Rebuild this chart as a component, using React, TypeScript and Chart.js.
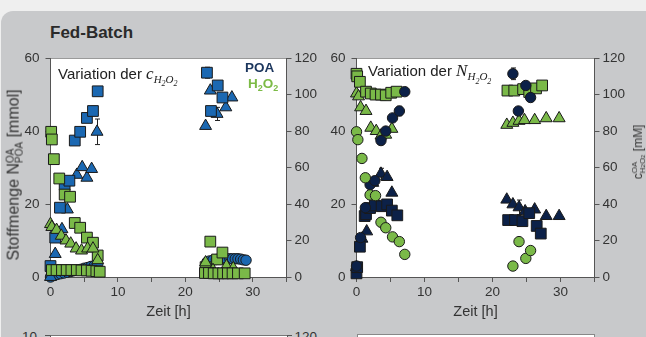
import React, { useEffect, useRef } from "react";
import { Chart, registerables } from "chart.js";
Chart.register(...registerables);

// ---------- axis ticks ----------
const xTickValues = [0, 5, 10, 15, 20, 25, 30, 35];
const xTickLabels = ["0", "", "10", "", "20", "", "30", ""];
const yLeftTicks = [0, 20, 40, 60];
const yRightTicks = [0, 20, 40, 60, 80, 100, 120];

// ---------- LEFT panel: Variation der c_H2O2 ----------
// POA [mmol] (blue)
const lPoaSqT = [0, 0.7, 1.4, 2.1, 2.8, 3.6, 4.4, 5.4, 6.3, 7.0, 23.2, 23.8, 24.8, 25.5];
const lPoaSqV = [3.0, 10.8, 19.0, 25.3, 26.4, 37.4, 39.8, 43.6, 45.5, 50.9, 56.0, 45.5, 52.5, 49.2];
const lPoaSqE = [0, 0, 0, 0, 0, 0, 0, 0, 1.3, 0, 1.5, 0, 0, 0];
const lPoaTrT = [0, 0.7, 1.7, 2.5, 3.9, 4.7, 5.4, 6.1, 6.9, 23.0, 23.7, 24.7, 26.0, 26.9];
const lPoaTrV = [0, 6.3, 13.1, 18.5, 28.0, 30.1, 27.2, 29.6, 39.8, 41.4, 51.1, 44.7, 46.5, 49.2];
const lPoaTrE = [0, 0, 0, 0, 0, 0, 0, 0, 3.5, 0, 0, 1.8, 0, 0];
const lPoaCiT = [0, 0.5, 1, 1.5, 2, 2.5, 3, 3.5, 4, 4.5, 5, 5.5, 6, 6.5, 7, 23.2, 23.6, 24.1, 24.6, 25.1, 25.6, 26.1, 26.6, 27.0, 27.4, 27.8, 28.2, 28.6, 29.0];
const lPoaCiV = [0, 0.4, 0.7, 0.9, 1.1, 1.3, 1.5, 1.7, 1.9, 2.1, 2.4, 2.6, 2.9, 3.1, 3.4, 4.1, 4.4, 4.6, 4.8, 4.9, 5.0, 5.0, 5.0, 5.0, 5.0, 5.0, 4.9, 4.7, 4.6];
// H2O2 [mM] (green)
const lHpSqT = [0.1, 0.2, 0.5, 1.3, 2.1, 2.9, 3.6, 4.4, 5.4, 6.3, 7.0, 23.0, 23.7, 24.7, 25.5];
const lHpSqV = [79.6, 75.4, 64.6, 54.0, 45.2, 44.0, 29.6, 27.0, 21.6, 18.8, 11.8, 5.4, 19.4, 9.6, 13.4];
const lHpSq2T = [0.2, 0.9, 1.7, 2.4, 3.1, 3.9, 4.6, 5.4, 6.1, 6.8, 7.3, 22.9, 23.5, 24.2, 24.9, 25.6, 26.3, 27.0, 27.8, 28.8];
const lHpSq2V = [3.8, 3.8, 3.8, 3.8, 3.8, 3.8, 3.6, 3.6, 3.4, 3.2, 2.9, 2.2, 2.2, 2.0, 2.0, 2.0, 2.0, 2.0, 2.0, 2.0];
const lHpTrT = [0, 0.2, 0.9, 1.6, 2.3, 3.0, 3.8, 4.6, 5.5, 6.3, 7.0, 23.0, 24.1, 26.1, 27.1];
const lHpTrV = [29.0, 27.4, 25.8, 22.6, 20.0, 18.3, 15.6, 14.5, 15.6, 15.6, 9.2, 8.0, 3.8, 6.0, 4.8];

// ---------- RIGHT panel: Variation der N_H2O2 ----------
const rPoaCiT = [0, 0.6, 1.3, 2.0, 2.7, 3.6, 4.3, 5.3, 6.3, 7.1, 23.0, 23.8, 24.9, 25.6];
const rPoaCiV = [3.0, 10.8, 19.0, 25.3, 26.4, 37.4, 40.0, 43.6, 45.5, 50.8, 55.7, 45.5, 52.5, 49.2];
const rPoaCiE = [0, 0, 0, 0, 0, 0, 0, 0, 1.3, 0, 1.6, 0, 0, 0];
const rPoaTrT = [0, 0.8, 1.5, 2.4, 3.6, 4.5, 5.2, 22.1, 23.0, 23.9, 24.8, 26.2, 27.9, 29.8];
const rPoaTrV = [2.7, 10.5, 12.5, 25.8, 28.3, 27.4, 23.1, 21.2, 19.9, 19.1, 18.0, 18.5, 16.7, 16.7];
const rPoaTrE = [0, 0, 0, 0, 1.5, 0, 0, 0, 0, 2.0, 0, 0, 0, 0];
const rPoaSqT = [0, 0.1, 0.5, 1.2, 1.4, 2.0, 2.7, 3.7, 4.5, 5.2, 6.0, 22.3, 23.3, 24.4, 25.4, 26.5, 27.1];
const rPoaSqV = [1.0, 2.7, 8.3, 16.7, 17.2, 18.9, 19.6, 19.4, 19.9, 18.2, 16.9, 15.6, 15.6, 15.3, 17.5, 14.0, 11.9];
const rHpSqT = [0, 0.1, 0.5, 1.4, 2.1, 2.8, 3.6, 4.3, 5.1, 5.9, 22.2, 23.2, 24.5, 25.4, 26.4, 27.3];
const rHpSqV = [111.4, 110.0, 107.0, 101.6, 100.6, 100.0, 100.0, 99.6, 101.0, 101.6, 102.2, 102.2, 103.0, 101.4, 103.4, 105.0];
const rHpTrT = [0, 0.3, 0.6, 1.4, 2.1, 2.9, 3.6, 4.3, 5.2, 22.1, 23.0, 23.9, 24.7, 26.2, 27.9, 29.8];
const rHpTrV = [100.6, 99.0, 93.0, 91.0, 81.8, 80.0, 77.5, 78.0, 81.2, 83.4, 84.5, 85.6, 86.0, 86.0, 87.0, 87.0];
const rHpCiT = [0, 0.2, 0.8, 1.3, 2.0, 2.8, 3.6, 4.3, 5.3, 6.3, 7.1, 23.0, 23.9, 24.9, 25.6];
const rHpCiV = [79.6, 75.3, 65.0, 54.4, 45.0, 44.6, 30.0, 27.0, 22.0, 19.4, 12.4, 6.0, 19.4, 10.2, 14.5];

// ---------- styles ----------
const FONT = "'Liberation Sans', Arial, Helvetica, sans-serif";
const SERIF = "'Liberation Serif', 'Times New Roman', serif";
const BLUE = "#1b68b2";
const NAVY = "#0c2148";
const GREEN = "#7ab948";
const EDGE = "#1a1a1a";
const AXIS = "#555555";
const TICKTXT = "#333333";

const pts = (t: number[], v: number[]) => t.map((x, i) => ({ x, y: v[i] }));

function series(t: number[], v: number[], shape: string, color: string, axis: string, errs?: number[]) {
  const r = shape === "rect" ? 7.6 : shape === "triangle" ? 6.9 : 5.2;
  return {
    data: pts(t, v),
    yAxisID: axis,
    pointStyle: shape,
    pointRadius: r,
    pointHoverRadius: r,
    backgroundColor: color,
    borderColor: EDGE,
    borderWidth: 1,
    showLine: false,
    clip: false,
    errs,
  };
}

const plotBg = {
  id: "plotBg",
  beforeDraw(chart: any) {
    const { ctx, chartArea: a } = chart;
    ctx.save();
    ctx.fillStyle = "#ffffff";
    ctx.fillRect(a.left, a.top, a.right - a.left, a.bottom - a.top);
    ctx.strokeStyle = "#9a9a9a";
    ctx.lineWidth = 1;
    ctx.beginPath();
    ctx.moveTo(a.left, Math.round(a.top) + 0.5);
    ctx.lineTo(a.right, Math.round(a.top) + 0.5);
    ctx.stroke();
    ctx.restore();
  },
};

const errorBars = {
  id: "errorBars",
  beforeDatasetsDraw(chart: any) {
    const ctx = chart.ctx;
    chart.data.datasets.forEach((ds: any, i: number) => {
      if (!ds.errs) return;
      const meta = chart.getDatasetMeta(i);
      const ys = chart.scales[meta.yAxisID];
      ds.data.forEach((p: any, j: number) => {
        const e = ds.errs[j];
        if (!e) return;
        const x = Math.round(meta.data[j].x) + 0.5;
        const y1 = ys.getPixelForValue(p.y + e);
        const y2 = ys.getPixelForValue(p.y - e);
        ctx.save();
        ctx.strokeStyle = "#222";
        ctx.lineWidth = 1;
        ctx.beginPath();
        ctx.moveTo(x, y1);
        ctx.lineTo(x, y2);
        ctx.moveTo(x - 2.5, y1);
        ctx.lineTo(x + 2.5, y1);
        ctx.moveTo(x - 2.5, y2);
        ctx.lineTo(x + 2.5, y2);
        ctx.stroke();
        ctx.restore();
      });
    });
  },
};

function axisCommon() {
  return {
    grid: { drawOnChartArea: false, drawTicks: true, tickLength: 5, color: AXIS },
    border: { display: true, color: AXIS, width: 1 },
  };
}

function ScatterPanel(props: {
  left: number; top: number; width: number; height: number;
  yLeftW: number; yRightW: number; xH: number; padTop: number; datasets: any[];
}) {
  const ref = useRef<HTMLCanvasElement>(null);
  useEffect(() => {
    const chart = new Chart(ref.current as HTMLCanvasElement, {
      type: "scatter",
      data: { datasets: props.datasets as any },
      options: {
        animation: false,
        responsive: false,
        devicePixelRatio: 1,
        events: [],
        layout: { padding: { top: props.padTop, left: 0, right: 0, bottom: 0 } },
        plugins: { legend: { display: false }, tooltip: { enabled: false } },
        scales: {
          x: {
            type: "linear",
            position: "bottom",
            min: 0,
            max: 35,
            afterFit: (s: any) => { s.height = props.xH; },
            afterBuildTicks: (s: any) => { s.ticks = xTickValues.map((v) => ({ value: v })); },
            ticks: {
              autoSkip: false,
              maxRotation: 0,
              padding: 2,
              color: TICKTXT,
              font: { family: FONT, size: 13.5 },
              callback: (v: any) => xTickLabels[xTickValues.indexOf(Number(v))] ?? "",
            },
            title: {
              display: true,
              text: "Zeit [h]",
              color: TICKTXT,
              font: { family: FONT, size: 14.5 },
              padding: { top: 0, bottom: 3 },
            },
            ...axisCommon(),
          },
          y: {
            type: "linear",
            position: "left",
            min: 0,
            max: 60,
            afterFit: (s: any) => { s.width = props.yLeftW; },
            afterBuildTicks: (s: any) => { s.ticks = yLeftTicks.map((v) => ({ value: v })); },
            ticks: { padding: 6, color: TICKTXT, font: { family: FONT, size: 13.5 } },
            ...axisCommon(),
          },
          y2: {
            type: "linear",
            position: "right",
            min: 0,
            max: 120,
            afterFit: (s: any) => { s.width = props.yRightW; },
            afterBuildTicks: (s: any) => { s.ticks = yRightTicks.map((v) => ({ value: v })); },
            ticks: { padding: 3, color: TICKTXT, font: { family: FONT, size: 13.5 } },
            ...axisCommon(),
          },
        } as any,
      },
      plugins: [plotBg, errorBars],
    });
    return () => chart.destroy();
  }, []);
  return (
    <canvas
      ref={ref}
      width={props.width}
      height={props.height}
      style={{ position: "absolute", left: props.left, top: props.top, width: props.width, height: props.height }}
    />
  );
}

const leftDatasets = [
  series(lHpSq2T, lHpSq2V, "rect", GREEN, "y2"),
  series(lHpTrT, lHpTrV, "triangle", GREEN, "y2"),
  series(lHpSqT, lHpSqV, "rect", GREEN, "y2"),
  series(lPoaSqT, lPoaSqV, "rect", BLUE, "y", lPoaSqE),
  series(lPoaTrT, lPoaTrV, "triangle", BLUE, "y", lPoaTrE),
  series(lPoaCiT, lPoaCiV, "circle", BLUE, "y"),
];

const rightDatasets = [
  series(rHpCiT, rHpCiV, "circle", GREEN, "y2"),
  series(rPoaCiT, rPoaCiV, "circle", NAVY, "y", rPoaCiE),
  series(rPoaSqT, rPoaSqV, "rect", NAVY, "y"),
  series(rHpSqT, rHpSqV, "rect", GREEN, "y2"),
  series(rPoaTrT, rPoaTrV, "triangle", NAVY, "y", rPoaTrE),
  series(rHpTrT, rHpTrV, "triangle", GREEN, "y2"),
];

const abs = (o: any) => ({ position: "absolute" as const, whiteSpace: "nowrap" as const, ...o });

function SubH2O2({ size, drop }: { size: number; drop: number }) {
  const small = Math.round(size * 0.72);
  return (
    <span style={{ fontSize: size, position: "relative", top: drop }}>
      H<span style={{ fontSize: small, position: "relative", top: size * 0.3 }}>2</span>O
      <span style={{ fontSize: small, position: "relative", top: size * 0.3 }}>2</span>
    </span>
  );
}

export default function App() {
  return (
    <div style={abs({ left: 0, top: 0, width: 646, height: 337, overflow: "hidden", background: "#efefef", fontFamily: FONT })}>
      <div style={abs({ left: 1, top: 11, width: 660, height: 340, background: "#c8c9cb", borderTopLeftRadius: 12 })} />
      <div style={abs({ left: 50, top: 23.8, fontSize: 17, lineHeight: "17px", fontWeight: "bold", color: "#2a2a2a" })}>Fed-Batch</div>

      <ScatterPanel left={0} top={44} width={330} height={280} yLeftW={50.5} yRightW={43.5} xH={47} padTop={10} datasets={leftDatasets} />
      <ScatterPanel left={316} top={44} width={330} height={280} yLeftW={40.5} yRightW={51.5} xH={47} padTop={10} datasets={rightDatasets} />

      {/* left panel annotation */}
      <div style={abs({ left: 58, top: 65.5, fontSize: 15, lineHeight: "15px", color: "#222" })}>
        Variation der{" "}
        <span style={{ fontFamily: SERIF, fontStyle: "italic" }}>
          <span style={{ fontSize: 17 }}>c</span>
          <SubH2O2 size={11} drop={4} />
        </span>
      </div>
      <div style={abs({ left: 245, top: 61, fontSize: 13.5, lineHeight: "13.5px", fontWeight: "bold", color: "#1b365d" })}>POA</div>
      <div style={abs({ left: 248, top: 76.5, fontSize: 13.5, lineHeight: "13.5px", fontWeight: "bold", color: "#7cbb46" })}>
        H<span style={{ fontSize: 9, position: "relative", top: 3 }}>2</span>O<span style={{ fontSize: 9, position: "relative", top: 3 }}>2</span>
      </div>

      {/* right panel annotation */}
      <div style={abs({ left: 368, top: 63.3, fontSize: 15, lineHeight: "15px", color: "#222" })}>
        Variation der{" "}
        <span style={{ fontFamily: SERIF, fontStyle: "italic" }}>
          <span style={{ fontSize: 17 }}>N</span>
          <SubH2O2 size={11} drop={4} />
        </span>
      </div>

      {/* left y-axis title */}
      <div style={abs({ left: 13.5, top: 175, fontSize: 16, lineHeight: "18px", color: "#333", transform: "translate(-50%, -50%) rotate(-90deg)" })}>
        Stoffmenge N
        <span style={{ display: "inline-flex", flexDirection: "column", fontSize: 10, lineHeight: "9px", verticalAlign: "middle" }}>
          <span>OA</span>
          <span>POA</span>
        </span>{" "}
        [mmol]
      </div>

      {/* right y-axis title */}
      <div style={abs({ left: 638.5, top: 152, fontSize: 12, lineHeight: "14px", color: "#333", transform: "translate(-50%, -50%) rotate(-90deg)" })}>
        c
        <span style={{ display: "inline-flex", flexDirection: "column", fontSize: 8, lineHeight: "8px", verticalAlign: "middle" }}>
          <span>OA</span>
          <span>
            H<span style={{ fontSize: 6 }}>2</span>O<span style={{ fontSize: 6 }}>2</span>
          </span>
        </span>{" "}
        [mM]
      </div>

      {/* next row of panels (cut off) */}
      <div style={abs({ left: 50, top: 334.5, width: 236, height: 20, background: "#fff", borderTop: "1px solid #777", borderLeft: "1px solid #555", borderRight: "1px solid #555" })} />
      <div style={abs({ left: 45, top: 334.5, width: 5, height: 1, background: "#555" })} />
      <div style={abs({ left: 287, top: 334.5, width: 5, height: 1, background: "#555" })} />
      <div style={abs({ left: 22, top: 329.5, fontSize: 13.5, lineHeight: "13.5px", color: TICKTXT })}>10</div>
      <div style={abs({ left: 294.5, top: 329.5, fontSize: 13.5, lineHeight: "13.5px", color: TICKTXT })}>120</div>
      <div style={abs({ left: 357, top: 334, width: 236, height: 20, background: "#fff", border: "1px solid #888" })} />
    </div>
  );
}
